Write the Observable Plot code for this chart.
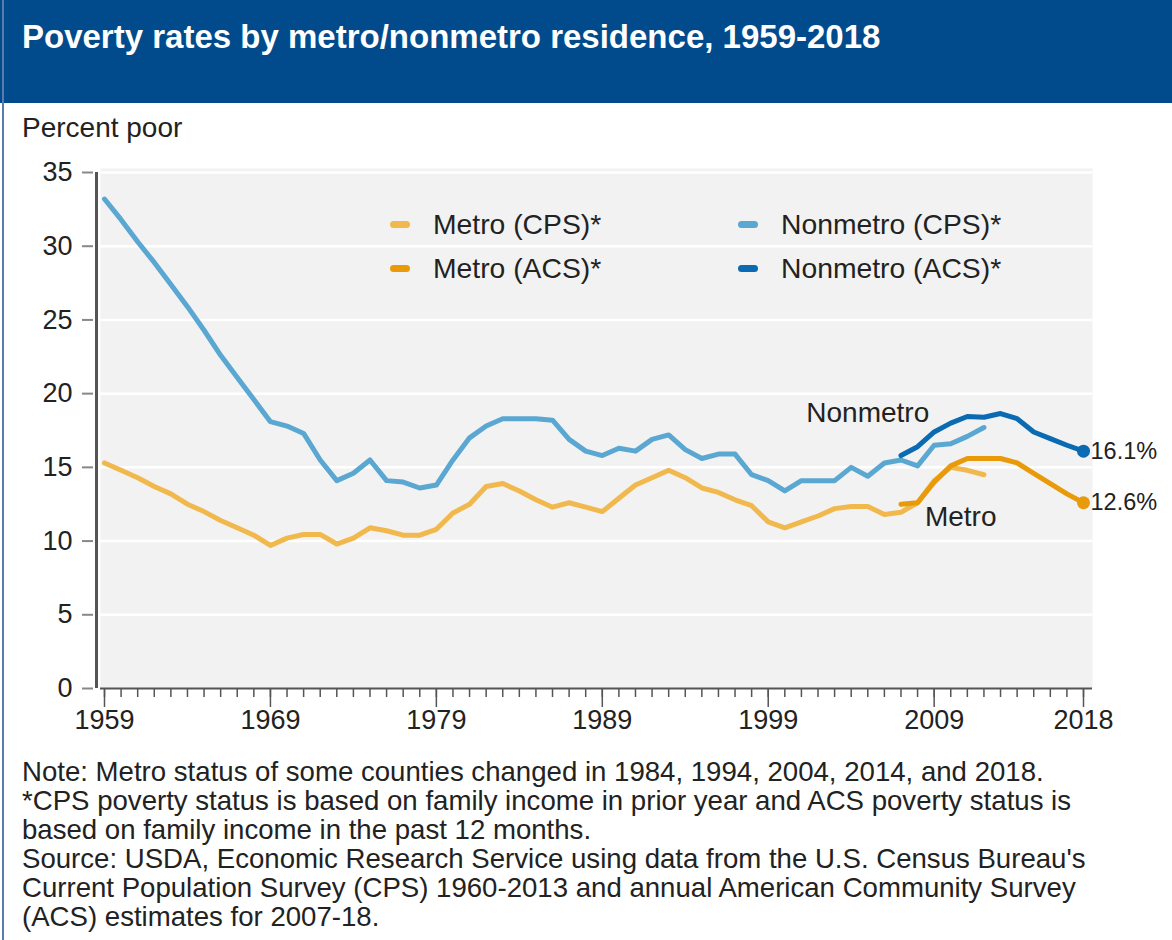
<!DOCTYPE html>
<html><head><meta charset="utf-8">
<script src="https://cdn.jsdelivr.net/npm/d3@7"></script>
<script src="https://cdn.jsdelivr.net/npm/@observablehq/plot@0.6"></script>
<style>
body{margin:0;background:#fff;font-family:"Liberation Sans",Arial,sans-serif;color:#222;}
#wrap{position:relative;width:1172px;height:940px;overflow:hidden;}
#border{position:absolute;left:2px;top:0;width:2px;height:940px;background:#5a7bb0;}
#header{position:absolute;left:0;top:0;width:1172px;height:103px;background:#014b8c;}
#title{position:absolute;left:22px;top:19px;line-height:36px;font-size:33px;font-weight:bold;color:#fff;white-space:nowrap;}
#ylabel{position:absolute;left:22px;top:113px;line-height:30px;font-size:28px;white-space:nowrap;}
#chart{position:absolute;left:0;top:150px;}
#legend{position:absolute;left:0;top:0;width:1172px;height:300px;pointer-events:none;}
.lg{position:absolute;font-size:28.3px;line-height:30px;white-space:nowrap;}
.sw{display:inline-block;width:20px;height:7px;border-radius:3.5px;vertical-align:middle;margin-right:23px;position:relative;top:-2px;}
#notes{position:absolute;left:22px;top:757px;font-size:27.6px;line-height:29px;white-space:nowrap;}
</style>
</head><body>
<div id="wrap">
  <div id="header"></div>
  <div id="border"></div>
  <div id="title">Poverty rates by metro/nonmetro residence, 1959-2018</div>
  <div id="ylabel">Percent poor</div>
  <div id="chart"></div>
  <div id="legend"></div>
  <div id="notes"></div>
</div>
<script>
// ---- Data ----
const cpsYears = [1959,1960,1961,1962,1963,1964,1965,1966,1967,1968,1969,1970,1971,1972,1973,1974,1975,1976,1977,1978,1979,1980,1981,1982,1983,1984,1985,1986,1987,1988,1989,1990,1991,1992,1993,1994,1995,1996,1997,1998,1999,2000,2001,2002,2003,2004,2005,2006,2007,2008,2009,2010,2011,2012];
const metroCPS = [15.3,14.8,14.3,13.7,13.2,12.5,12.0,11.4,10.9,10.4,9.7,10.2,10.45,10.45,9.8,10.2,10.9,10.7,10.4,10.4,10.8,11.9,12.5,13.7,13.9,13.4,12.8,12.3,12.6,12.3,12.0,12.9,13.8,14.3,14.8,14.3,13.6,13.3,12.8,12.4,11.3,10.9,11.3,11.7,12.2,12.35,12.35,11.8,11.95,12.6,14.1,15.0,14.8,14.5];
const nonmetroCPS = [33.2,31.8,30.3,28.9,27.4,25.9,24.3,22.6,21.1,19.6,18.1,17.8,17.3,15.5,14.1,14.6,15.5,14.1,14.0,13.6,13.8,15.5,17.0,17.8,18.3,18.3,18.3,18.2,16.9,16.1,15.8,16.3,16.1,16.9,17.2,16.2,15.6,15.9,15.9,14.5,14.1,13.4,14.1,14.1,14.1,15.0,14.4,15.3,15.5,15.1,16.5,16.6,17.1,17.7];
const acsYears = [2007,2008,2009,2010,2011,2012,2013,2014,2015,2016,2017,2018];
const metroACS = [12.5,12.6,14.0,15.1,15.6,15.6,15.6,15.3,14.6,13.9,13.2,12.6];
const nonmetroACS = [15.8,16.4,17.4,18.0,18.45,18.4,18.65,18.3,17.4,16.95,16.5,16.1];

const seriesNames = ["Metro (CPS)*","Nonmetro (CPS)*","Metro (ACS)*","Nonmetro (ACS)*"];
const seriesColors = ["#f1b94d","#5aa7d2","#e89a0a","#0a6ab2"];
const yTicks = [0,5,10,15,20,25,30,35];
const xMajorTicks = [1959,1969,1979,1989,1999,2009,2018];
const xMinorTicks = cpsYears.concat([2013,2014,2015,2016,2017,2018]);
const annotations = [
  {label:"Nonmetro", year:2005, value:18.7},
  {label:"Metro", year:2010.6, value:11.6}
];
const notesLines = [
  "Note: Metro status of some counties changed in 1984, 1994, 2004, 2014, and 2018.",
  "*CPS poverty status is based on family income in prior year and ACS poverty status is",
  "based on family income in the past 12 months.",
  "Source: USDA, Economic Research Service using data from the U.S. Census Bureau's",
  "Current Population Survey (CPS) 1960-2013 and annual American Community Survey",
  "(ACS) estimates for 2007-18."
];

// ---- Build tables ----
const toRows = (years, vals) => years.map((y,i)=>({year:y, value:vals[i]}));
const mCPS = toRows(cpsYears, metroCPS);
const nCPS = toRows(cpsYears, nonmetroCPS);
const mACS = toRows(acsYears, metroACS);
const nACS = toRows(acsYears, nonmetroACS);
const endPoints = [
  {...nACS[nACS.length-1], color: seriesColors[3]},
  {...mACS[mACS.length-1], color: seriesColors[2]}
];

const lineOpts = (c) => ({x:"year", y:"value", stroke:c, strokeWidth:5, strokeLinejoin:"round", strokeLinecap:"round"});

const chart = Plot.plot({
  width:1172, height:600,
  marginLeft:100, marginRight:80, marginTop:18, marginBottom:62,
  x:{domain:[1959,2018], insetLeft:4, insetRight:9},
  y:{domain:[0,35], insetTop:4},
  style:{fontFamily:"'Liberation Sans', Arial, sans-serif", fontSize:"27px", color:"#222", background:"transparent", overflow:"visible"},
  marks:[
    Plot.frame({fill:"#f2f2f2", stroke:null}),
    Plot.gridY(yTicks.filter(d=>d>0), {stroke:"#ffffff", strokeOpacity:1, strokeWidth:2.5}),
    Plot.ruleY([0], {stroke:"#555", strokeWidth:2}),
    Plot.ruleX([1959], {y1:0, y2:35, dx:-8, stroke:"#555", strokeWidth:3}),
    Plot.axisY(yTicks, {tickSize:11, dx:-7, tickPadding:10, stroke:"#888", strokeWidth:2, fontSize:27, label:null}),
    Plot.axisX(xMinorTicks, {tickSize:9, stroke:"#555", strokeWidth:1.5, tickFormat:()=>"", label:null}),
    Plot.axisX(xMajorTicks, {tickSize:19, tickPadding:2, stroke:"#555", strokeWidth:1.5, fontSize:27, tickFormat:d=>String(d), label:null}),
    Plot.line(mCPS, lineOpts(seriesColors[0])),
    Plot.line(nCPS, lineOpts(seriesColors[1])),
    Plot.line(mACS, lineOpts(seriesColors[2])),
    Plot.line(nACS, lineOpts(seriesColors[3])),
    Plot.dot(endPoints, {x:"year", y:"value", r:6.5, fill:"color", stroke:null}),
    Plot.text(endPoints, {x:"year", y:"value", text:d=>d.value.toFixed(1)+"%", dx:7, textAnchor:"start", fontSize:23.5, fill:"#222"}),
    Plot.text(annotations, {x:"year", y:"value", text:"label", fontSize:28, fill:"#222"})
  ]
});
document.getElementById("chart").appendChild(chart);

// ---- Legend (HTML overlay) ----
const legendPos = [
  {left:390, top:209}, {left:738, top:209}, {left:390, top:253}, {left:738, top:253}
];
const lg = document.getElementById("legend");
seriesNames.forEach((name,i)=>{
  const d = document.createElement("div");
  d.className = "lg";
  d.style.left = legendPos[i].left + "px";
  d.style.top = legendPos[i].top + "px";
  const s = document.createElement("span");
  s.className = "sw"; s.style.background = seriesColors[i];
  d.appendChild(s);
  d.appendChild(document.createTextNode(name));
  lg.appendChild(d);
});

// ---- Notes ----
const notes = document.getElementById("notes");
notesLines.forEach(t=>{ const d=document.createElement("div"); d.textContent=t; notes.appendChild(d); });
</script>
</body></html>
